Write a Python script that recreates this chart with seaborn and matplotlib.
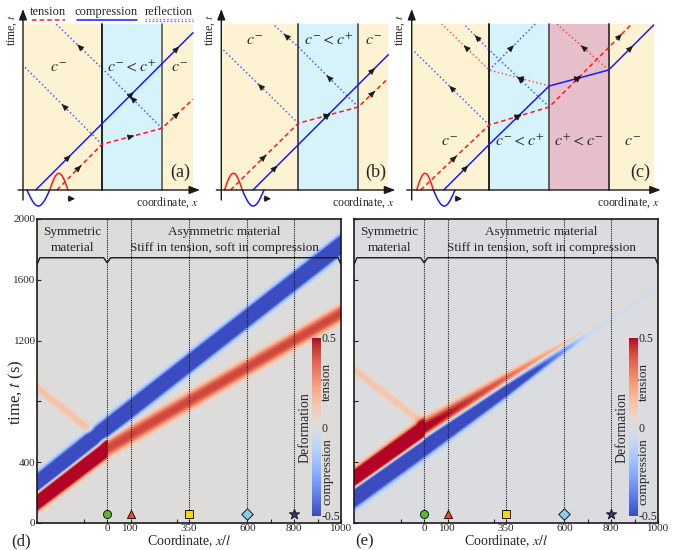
import numpy as np
import matplotlib
matplotlib.use("Agg")
import matplotlib.pyplot as plt
import seaborn as sns

W, H = 675, 550

# ---------------- top schematics (units ~ pixels from each panel's origin)
YELLOW, CYAN, PINK = "#fdf3d3", "#d6f2fb", "#e7bfcb"
RED, BLUE = "#ff1a1a", "#1a1aff"

A_BOUNDS = [0, 79, 139, 170]
A_FILLS = [YELLOW, CYAN, YELLOW]
A_EDGES = ["#111111", "#666666"]
A_COMP_X, A_COMP_T = [12.7, 79, 139, 170], [0, 66.3, 126.3, 157.3]
A_TENS_X, A_TENS_T = [34, 79, 139, 170], [0, 45.7, 61.7, 90.7]
A_REFL = [([79, 2], [45.7, 122.7], BLUE),
          ([139, 79, 33], [61.7, 121.7, 166], BLUE)]
A_LOBES = [(4, 26.7, -16, BLUE), (26.7, 45, 16.7, RED)]
A_LABELS = [(35, 122, r"$c^{-}$"), (109, 122, r"$c^{-} < c^{+}$"), (156, 122, r"$c^{-}$")]

B_BOUNDS = [0, 77, 137, 167]
B_FILLS = [YELLOW, CYAN, YELLOW]
B_EDGES = ["#444444", "#555555"]
B_COMP_X, B_COMP_T = [31.7, 77, 137, 167], [0, 45.3, 105.3, 135.3]
B_TENS_X, B_TENS_T = [9.3, 77, 137, 167], [0, 66.7, 83, 111.7]
B_REFL = [([77, 0], [66.7, 142], BLUE),
          ([137, 77, 51.7], [83, 143, 166], BLUE)]
B_LOBES = [(3.3, 21, 16.7, RED), (21, 42.7, -16, BLUE)]
B_LABELS = [(33, 149, r"$c^{-}$"), (107, 149, r"$c^{-} < c^{+}$"), (152, 149, r"$c^{-}$")]

C_BOUNDS = [0, 77.5, 137.5, 197, 242]
C_FILLS = [YELLOW, CYAN, PINK, YELLOW]
C_EDGES = ["#111111", "#555555", "#333333"]
C_COMP_X, C_COMP_T = [32, 77.5, 137.5, 197, 242], [0, 45.5, 104, 120, 165]
C_TENS_X, C_TENS_T = [9, 77.5, 137.5, 197, 220], [0, 65, 83, 142.5, 166]
C_REFL = [([77.5, 1], [65, 140], BLUE),
          ([137.5, 77.5, 52], [83, 140, 166], BLUE),
          ([137.5, 77.5, 30], [104, 120, 166], RED),
          ([77.5, 123.5], [120, 166], BLUE),
          ([197, 145], [120, 166], RED)]
C_LOBES = [(5, 21.7, 16.7, RED), (21.7, 43.3, -16, BLUE)]
C_LABELS = [(38, 48, r"$c^{-}$"), (108, 48, r"$c^{-} < c^{+}$"),
            (167, 48, r"$c^{+} < c^{-}$"), (221, 48, r"$c^{-}$")]

# ---------------- bottom heat maps: wave bands (path knots, amplitude knots, half-width)
D_COMP = ([-300, 0, 1000], [260, 630, 1830], [-300, 1000], [-0.95, -0.95], [-300, 1000], [66, 66])
D_TENS = ([-300, 0, 1000], [140, 490, 1380], [-300, -2, 2, 1000], [0.95, 0.95, 0.42, 0.42],
          [-300, 0, 1000], [62, 62, 58])
D_REFL = ([-300, 0], [890, 520], [-300, 0, 2], [0.13, 0.13, 0.0], [-300, 1000], [36, 36])

E_COMP = ([-300, 0, 620, 1000], [165, 500, 1165, 1560], [-300, 0, 350, 620, 700, 1000],
          [-0.95, -0.95, -0.75, -0.3, -0.06, -0.04], [-300, 0, 350, 620, 1000], [68, 68, 50, 28, 20])
E_TENS = ([-300, 0, 620, 1000], [290, 615, 1190, 1580], [-300, -2, 2, 350, 620, 700, 1000],
          [0.95, 0.95, 0.55, 0.4, 0.18, 0.05, 0.04], [-300, 0, 350, 620, 1000], [64, 74, 47, 25, 20])
E_REFL = ([-300, 0], [1010, 650], [-300, 0, 2], [0.13, 0.13, 0.0], [-300, 1000], [36, 36])

PROBE_X = [0, 100, 350, 600, 800]
PROBE_MARK = ["o", "^", "s", "D", "*"]
PROBE_COL = ["#5cb82a", "#e2531a", "#f5d800", "#86cdee", "#2e3a7a"]
PROBE_T = 60

X_TICKS = [0, 100, 350, 600, 800, 1000]
X_MINOR = [-100, 300, 700, 900]
Y_TICKS = [0, 400, 800, 1200, 1600, 2000]
Y_LABELS = ["0", "400", "", "1200", "1600", "2000"]

sns.set_theme(style="white")
plt.rcParams["font.family"] = ["Liberation Serif", "DejaVu Serif"]
plt.rcParams["mathtext.fontset"] = "stix"

fig = plt.figure(figsize=(W / 100, H / 100), dpi=100)


def seg_arrows(ax, xs, ts):
    for i in range(len(xs) - 1):
        dx, dt = xs[i + 1] - xs[i], ts[i + 1] - ts[i]
        L = np.hypot(dx, dt)
        if L < 12:
            continue
        mx, mt = xs[i] + dx / 2, ts[i] + dt / 2
        ux, ut = dx / L * 2.5, dt / L * 2.5
        ax.annotate("", xy=(mx + ux, mt + ut), xytext=(mx - ux, mt - ut),
                    arrowprops=dict(arrowstyle="-|>,head_length=0.7,head_width=0.3",
                                    color="k", lw=0.5, mutation_scale=6,
                                    shrinkA=0, shrinkB=0))


def schematic(ox, xlim, bounds, fills, edges, comp, tens, refl, lobes, labels, tag):
    x0, x1 = xlim
    y0, y1 = -25, 185
    ax = fig.add_axes([(ox + x0) / W, 1 - (190 - y0) / H, (x1 - x0) / W, (y1 - y0) / H])
    ax.set_xlim(x0, x1)
    ax.set_ylim(y0, y1)
    ax.set_axis_off()
    top = 166
    for i, c in enumerate(fills):
        ax.fill_between([bounds[i], bounds[i + 1]], 0, top, color=c, lw=0)
    for b, c in zip(bounds[1:-1], edges):
        ax.plot([b, b], [0, top], color=c, lw=1.3)
    for rx, rt, c in refl:
        ax.plot(rx, rt, color=c, ls=(0, (1, 1.6)), lw=1.1, alpha=0.7)
        seg_arrows(ax, rx, rt)
    ax.plot(tens[0], tens[1], color=RED, ls=(0, (3, 2)), lw=1.1)
    ax.plot(comp[0], comp[1], color=BLUE, lw=1.1)
    seg_arrows(ax, *tens)
    seg_arrows(ax, *comp)
    for a, b, amp, c in lobes:
        xx = np.linspace(a, b, 40)
        ax.plot(xx, amp * np.sin(np.pi * (xx - a) / (b - a)), color=c, lw=1.1)
    end = lobes[-1][1]
    ax.annotate("", xy=(end + 7, -8.7), xytext=(end, -8.7),
                arrowprops=dict(arrowstyle="-|>,head_length=0.6,head_width=0.3",
                                color="k", lw=0.8, mutation_scale=6, shrinkA=0, shrinkB=0))
    # axes with arrows
    xr = bounds[-1] + 4
    ax.annotate("", xy=(0, 181), xytext=(0, -10),
                arrowprops=dict(arrowstyle="-|>,head_length=0.8,head_width=0.3",
                                color="k", lw=1, mutation_scale=8, shrinkA=0, shrinkB=0))
    ax.annotate("", xy=(xr + 3, 0), xytext=(-5, 0),
                arrowprops=dict(arrowstyle="-|>,head_length=0.8,head_width=0.3",
                                color="k", lw=1, mutation_scale=8, shrinkA=0, shrinkB=0))
    ax.text(-11, 160, r"time, $t$", rotation=90, ha="center", va="center", fontsize=8.5)
    ax.text(xr + 2, -13, r"coordinate, $x$", ha="right", va="center", fontsize=8.5)
    for lx, lt, s in labels:
        ax.text(lx, lt, s, ha="center", va="center", fontsize=11.5)
    ax.text(bounds[-1] - 13, 18, tag, ha="center", va="center", fontsize=13)
    return ax


axa = schematic(23, (-20, 185), A_BOUNDS, A_FILLS, A_EDGES, (A_COMP_X, A_COMP_T),
                (A_TENS_X, A_TENS_T), A_REFL, A_LOBES, A_LABELS, "(a)")
schematic(221.3, (-20, 185), B_BOUNDS, B_FILLS, B_EDGES, (B_COMP_X, B_COMP_T),
          (B_TENS_X, B_TENS_T), B_REFL, B_LOBES, B_LABELS, "(b)")
schematic(411.7, (-20, 262), C_BOUNDS, C_FILLS, C_EDGES, (C_COMP_X, C_COMP_T),
          (C_TENS_X, C_TENS_T), C_REFL, C_LOBES, C_LABELS, "(c)")

# legend of panel (a)
axa.text(24.5, 178, "tension", ha="center", va="center", fontsize=9)
axa.plot([9, 42], [170, 170], color=RED, ls=(0, (3, 2)), lw=1.1)
axa.text(83, 178, "compression", ha="center", va="center", fontsize=9)
axa.plot([54, 114], [170, 170], color=BLUE, lw=1.1)
axa.text(146, 178, "reflection", ha="center", va="center", fontsize=9)
axa.plot([122, 170], [171.2, 171.2], color=RED, ls=(0, (1, 1.6)), lw=1, alpha=0.7)
axa.plot([122, 170], [168.8, 168.8], color=BLUE, ls=(0, (1, 1.6)), lw=1, alpha=0.7)

# ---------------- heat maps
xg = np.linspace(-300, 1000, 651)
tg = np.linspace(0, 2000, 801)
X, T = np.meshgrid(xg, tg)


def field(bands, base):
    F = np.full_like(X, base)
    for px_, pt_, ax_, av_, wx_, wv_ in bands:
        tc = np.interp(X, px_, pt_)
        amp = np.interp(X, ax_, av_)
        w = np.interp(X, wx_, wv_)
        F += amp * np.exp(-(np.abs(T - tc) / w) ** 3)
    return F


def heat(left, F, cbar_left, show_ylabels, tag, tag_x):
    ax = fig.add_axes([left / W, 27 / H, 304 / W, 304 / H])
    im = ax.imshow(F, extent=(-300, 1000, 0, 2000), origin="lower", aspect="auto",
                   cmap="coolwarm", vmin=-0.5, vmax=0.5, interpolation="bilinear")
    ax.set_xlim(-300, 1000)
    ax.set_ylim(0, 2000)
    for s in ax.spines.values():
        s.set_color("k")
        s.set_linewidth(1.2)
        s.set_visible(True)
    ax.vlines(PROBE_X, PROBE_T, 2000, colors="k", linestyles=(0, (1, 1)), lw=0.8)
    for xp, m, c in zip(PROBE_X, PROBE_MARK, PROBE_COL):
        sns.scatterplot(x=[xp], y=[PROBE_T], marker=m, color=c, edgecolor="k",
                        linewidth=0.7, s=60 if m == "*" else 34, ax=ax, zorder=5)
    # header
    ax.plot([-300, -288, -15, 0, 15, 988, 1000], [1700, 1745, 1745, 1712, 1745, 1745, 1700],
            color="k", lw=1)
    ax.text(-150, 1914, "Symmetric", ha="center", va="center", fontsize=9.5)
    ax.text(-150, 1809, "material", ha="center", va="center", fontsize=9.5)
    ax.text(500, 1914, "Asymmetric material", ha="center", va="center", fontsize=9.5)
    ax.text(500, 1809, "Stiff in tension, soft in compression", ha="center", va="center",
            fontsize=9.5)
    ax.set_xticks(X_TICKS)
    ax.set_xticks(X_MINOR, minor=True)
    ax.set_xticklabels([str(v) for v in X_TICKS])
    ax.set_yticks(Y_TICKS)
    ax.set_yticklabels(Y_LABELS if show_ylabels else [])
    ax.tick_params(direction="in", length=3, width=0.8, labelsize=8, pad=1,
                   bottom=True, left=True)
    ax.tick_params(which="minor", direction="in", length=3, width=0.8, bottom=True)
    ax.set_xlabel(r"Coordinate, $x/l$", fontsize=10, va="bottom")
    ax.xaxis.set_label_coords(0.5, -0.086)
    if show_ylabels:
        ax.set_ylabel(r"time, $t$ (s)", fontsize=12)
        ax.yaxis.set_label_coords(-0.035, 0.43)
    fig.text(tag_x / W, 1 - 541 / H, tag, ha="center", va="center", fontsize=12)
    # colour bar
    cax = fig.add_axes([cbar_left / W, 34 / H, 8.5 / W, 178 / H])
    cb = fig.colorbar(im, cax=cax, ticks=[-0.5, 0, 0.5])
    cb.ax.set_yticklabels(["-0.5", "0", "0.5"])
    cb.ax.tick_params(length=0, labelsize=8.5, pad=1)
    cb.outline.set_visible(False)
    fig.text((cbar_left - 7) / W, 1 - 428 / H, "Deformation", rotation=90,
             ha="center", va="center", fontsize=10)
    fig.text((cbar_left + 15) / W, 1 - 382 / H, "tension", rotation=90,
             ha="center", va="center", fontsize=9.5)
    fig.text((cbar_left + 15) / W, 1 - 472 / H, "compression", rotation=90,
             ha="center", va="center", fontsize=9.5)
    return ax


heat(37, field([D_COMP, D_TENS, D_REFL], 0.0), 312, True, "(d)", 21)
heat(354, field([E_COMP, E_TENS, E_REFL], -0.01), 629, False, "(e)", 365)

fig.savefig("out.png", dpi=100)
